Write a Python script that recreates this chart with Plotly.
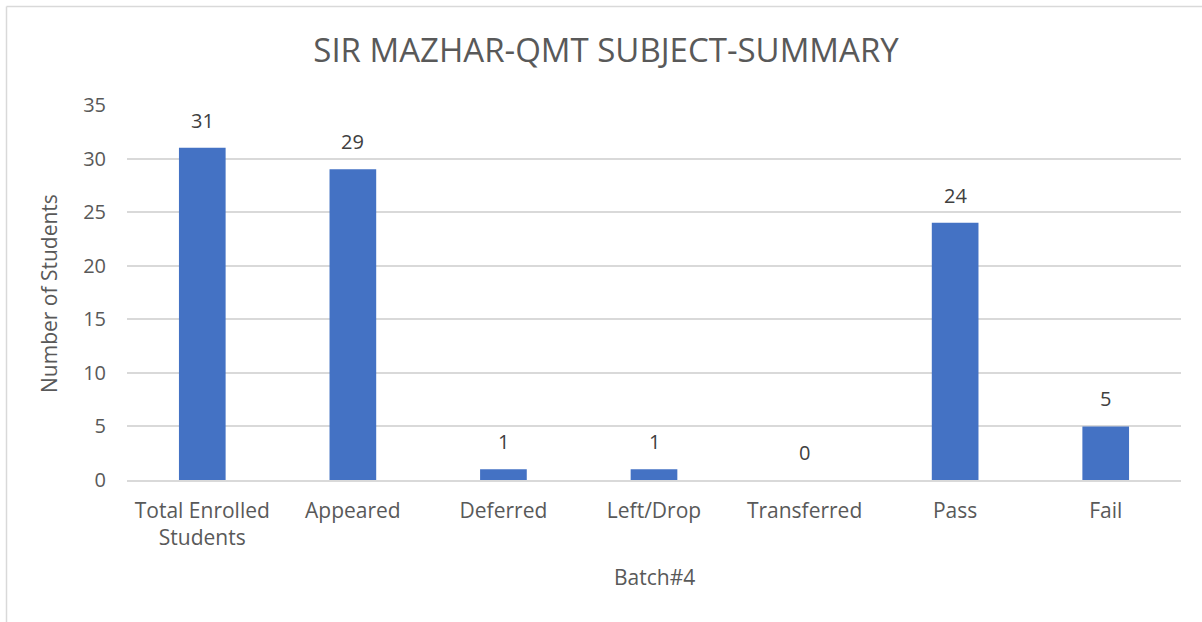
import plotly.graph_objects as go

categories = ["Total Enrolled<br>Students", "Appeared", "Deferred", "Left/Drop", "Transferred", "Pass", "Fail"]
values = [31, 29, 1, 1, 0, 24, 5]
y_ticks = [0, 5, 10, 15, 20, 25, 30, 35]

FONT = "Open Sans"
GRAY = "#595959"

W, H = 1202, 622
L, R, T, B = 127, 21, 105, 142
pw, ph = W - L - R, H - T - B

def px_x(x):
    return (x - L) / pw

def px_y(y):
    return (H - B - y) / ph

fig = go.Figure()
fig.add_trace(go.Bar(
    x=categories, y=values,
    marker=dict(color="#4472C4", line=dict(width=0)),
    width=0.31,
    hoverinfo="x+y",
))

annotations = []
for c, v in zip(categories, values):
    annotations.append(dict(
        x=c, y=v, xref="x", yref="y", text=str(v), showarrow=False,
        yanchor="bottom", yshift=12,
        font=dict(family=FONT, size=20, color="#404040"),
    ))
annotations.append(dict(
    x=px_x(654), y=px_y(577), xref="paper", yref="paper", text="Batch#4", showarrow=False,
    xanchor="center", yanchor="middle", font=dict(family=FONT, size=21, color=GRAY),
))
annotations.append(dict(
    x=px_x(49), y=px_y(294), xref="paper", yref="paper", text="Number of Students", showarrow=False,
    xanchor="center", yanchor="middle", textangle=-90, font=dict(family=FONT, size=21, color=GRAY),
))

shapes = [
    dict(type="line", xref="paper", yref="paper", x0=px_x(6.5), x1=px_x(1210), y0=px_y(6.5), y1=px_y(6.5),
         line=dict(color="#d9d9d9", width=1.5)),
    dict(type="line", xref="paper", yref="paper", x0=px_x(6.5), x1=px_x(6.5), y0=px_y(6.5), y1=px_y(640),
         line=dict(color="#d9d9d9", width=1.5)),
]

fig.update_layout(
    width=W, height=H,
    margin=dict(l=L, r=R, t=T, b=B, autoexpand=False),
    paper_bgcolor="white", plot_bgcolor="white",
    showlegend=False,
    title=dict(text="SIR MAZHAR-QMT SUBJECT-SUMMARY", x=606 / W, xanchor="center",
               y=1 - 50 / H, yanchor="middle",
               font=dict(family=FONT, size=33, color=GRAY)),
    font=dict(family=FONT, size=20, color=GRAY),
    annotations=annotations,
    shapes=shapes,
)
fig.update_xaxes(
    automargin=False,
    showgrid=False, showline=True, linecolor="#d9d9d9", linewidth=1.5,
    ticks="", ticklabelstandoff=11,
    tickfont=dict(family=FONT, size=21, color=GRAY),
)
fig.update_yaxes(
    automargin=False,
    range=[0, 35], tickvals=y_ticks, showgrid=True, gridcolor="#d9d9d9", gridwidth=1.5,
    zeroline=False, showline=False, ticks="", ticklen=0, ticklabelstandoff=20,
    tickfont=dict(family=FONT, size=20, color=GRAY),
)

fig.write_html(
    "out.html",
    config={"displayModeBar": False},
    post_script="document.body.style.margin='0';document.body.style.overflow='hidden';",
)
